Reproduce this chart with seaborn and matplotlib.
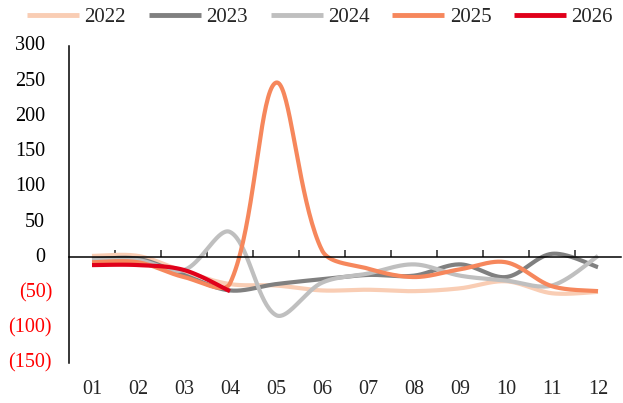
import numpy as np
import pandas as pd
import matplotlib
matplotlib.use("Agg")
import matplotlib.pyplot as plt
import matplotlib.transforms as mtransforms
import seaborn as sns

# Monthly values by year
months = ["01", "02", "03", "04", "05", "06", "07", "08", "09", "10", "11", "12"]
y2022 = [2, 2, -20, -38, -40, -47, -46, -48, -44, -34, -51, -49]
y2023 = [-3, -2, -25, -47, -38, -31, -25, -26, -10, -28, 5, -14]
y2024 = [-4, -4, -18, 36, -82, -36, -23, -10, -26, -33, -40, 2]
y2025 = [-7, -7, -28, -37, 248, 10, -16, -28, -17, -7, -41, -48]
y2026 = [-11, -11, -18, -48]

years = ["2022", "2023", "2024", "2025", "2026"]
series = [y2022, y2023, y2024, y2025, y2026]
colors = ["#F9CDB4", "#808080", "#BFBFBF", "#F6875C", "#E0001A"]
yticks = [300, 250, 200, 150, 100, 50, 0, -50, -100, -150]

# aspect used for chord lengths of the smoothed line (units per category step)
Y_ASPECT = 0.01535


def smooth(vals, n=40):
    """Bezier smoothing through every monthly point (spreadsheet-style smoothed line)."""
    p = np.column_stack([np.arange(len(vals), dtype=float), np.asarray(vals, float)])
    q = p.copy()
    q[:, 1] *= Y_ASPECT
    m = len(p)
    cplus = np.zeros_like(p)
    cminus = np.zeros_like(p)
    for i in range(m):
        if i == 0:
            cplus[i] = q[i] + (q[1] - q[0]) / 6
            continue
        if i == m - 1:
            cminus[i] = q[i] - (q[i] - q[i - 1]) / 6
            continue
        d = q[i + 1] - q[i - 1]
        l1 = np.linalg.norm(q[i] - q[i - 1])
        l2 = np.linalg.norm(q[i + 1] - q[i])
        cminus[i] = q[i] - d * (1 / 3) * l1 / (l1 + l2)
        cplus[i] = q[i] + d * (1 / 3) * l2 / (l1 + l2)
    t = np.linspace(0, 1, n)[:, None]
    out = [q[:1]]
    for i in range(m - 1):
        a, b, c, e = q[i], cplus[i], cminus[i + 1], q[i + 1]
        seg = (1 - t) ** 3 * a + 3 * (1 - t) ** 2 * t * b + 3 * (1 - t) * t ** 2 * c + t ** 3 * e
        out.append(seg[1:])
    r = np.vstack(out)
    r[:, 1] /= Y_ASPECT
    return r


rows = []
for yr, vals in zip(years, series):
    for x, y in smooth(vals):
        rows.append({"x": x, "value": y, "year": yr})
df = pd.DataFrame(rows)

sns.set_style("white")
plt.rcParams["font.family"] = ["Liberation Serif", "DejaVu Serif"]

W, H = 623, 403
fig = plt.figure(figsize=(W / 100, H / 100), dpi=100)
ax_left, ax_right, ax_top, ax_bottom = 69, 621, 46, 363
ax = fig.add_axes([ax_left / W, 1 - ax_bottom / H, (ax_right - ax_left) / W, (ax_bottom - ax_top) / H])

sns.lineplot(data=df, x="x", y="value", hue="year", palette=dict(zip(years, colors)),
             sort=False, estimator=None, linewidth=3, ax=ax)
for line in ax.get_lines():
    line.set_solid_capstyle("butt")

ax.set_xlim(-0.5, 11.5)
ax.set_ylim(-150, 300)
ax.set_yticks(yticks)
ax.tick_params(axis="y", direction="in", length=5, width=1.1, labelleft=False)

# value labels: negatives in red parentheses, digits aligned with the positives
trans = mtransforms.blended_transform_factory(ax.transAxes, ax.transData)
for v in yticks:
    if v < 0:
        ax.text((52 - ax_left) / (ax_right - ax_left), v, f"({abs(v)})", transform=trans,
                ha="right", va="center", fontsize=14.5, color="red")
    else:
        ax.text((45 - ax_left) / (ax_right - ax_left), v, f"{v}", transform=trans,
                ha="right", va="center", fontsize=14.5, color="black")

# category boundaries marked on the zero line
ax.spines["bottom"].set_position(("data", 0))
ax.set_xticks(np.arange(0.5, 11, 1))
ax.tick_params(axis="x", direction="in", length=5, width=1.1, labelbottom=False, bottom=True)
for s in ["top", "right"]:
    ax.spines[s].set_visible(False)
for s in ["left", "bottom"]:
    ax.spines[s].set_linewidth(1.1)
    ax.spines[s].set_color("black")
ax.set_xlabel("")
ax.set_ylabel("")

# month labels along the bottom edge
sec = ax.secondary_xaxis(0)
sec.set_xticks(range(12), labels=months)
sec.tick_params(length=0, pad=12, labelsize=14.5)
sec.spines["bottom"].set_visible(False)

handles, labels = ax.get_legend_handles_labels()
ax.get_legend().remove()
leg = fig.legend(handles, labels, loc="center", bbox_to_anchor=(320 / W, 1 - 17 / H),
                 ncol=5, frameon=False, fontsize=15, handlelength=2.5, handletextpad=0.25,
                 columnspacing=1.1, borderpad=0)
for h in leg.get_lines():
    h.set_linewidth(3.5)

fig.savefig("out.png", dpi=100)
